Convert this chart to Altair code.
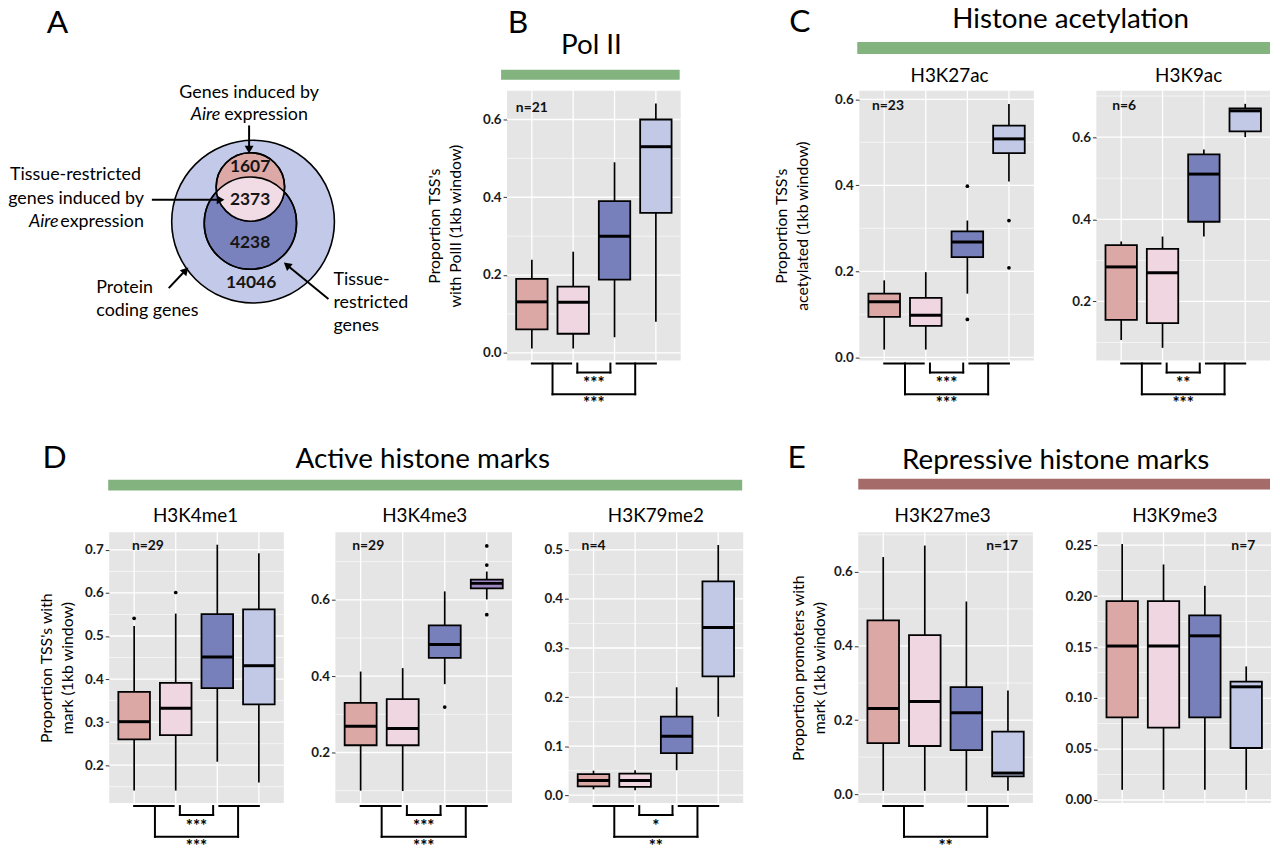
import math
import altair as alt
import numpy as np
import pandas as pd

FONT = "Lato"
PANEL_BG = "#e5e5e5"
GREEN = "#83b37f"
RED = "#a56b68"
BOX_FILL = ["#dba8a6", "#efd6e1", "#7880bb", "#c2c9e7"]
D2_FILL = ["#dba8a6", "#efd6e1", "#7880bb", "#9d88c4"]
CATS = [1, 2, 3, 4]

# ---------------- Panel A: Venn diagram ----------------
venn_counts = ["1607", "2373", "4238", "14046"]
venn_count_x = [249, 249, 249, 250]
venn_count_y = [165, 198, 242, 282]
circle_cx = [252, 249.3, 249.3]          # protein coding, tissue-restricted, Aire-induced
circle_cy = [220, 221.5, 185]
circle_r = [82, 46.5, 34.5]
circle_fill = ["#c3c9e8", "#7a82bd", "#dca9a7"]
LENS_FILL = "#f1dce5"

arrow_x = [248, 150, 167, 328]
arrow_y = [123, 198, 287, 298]
arrow_x2 = [248, 217, 183, 287]
arrow_y2 = [145, 198, 270, 264.5]
head_x = [248, 218, 183.2, 287.1]
head_y = [146, 198, 270, 264.5]
head_angle = [180, 90, 43, 309]

# ---------------- Box plot data ----------------
polii_lo = [0.011, 0.011, 0.04, 0.08]
polii_q1 = [0.06, 0.049, 0.188, 0.36]
polii_med = [0.131, 0.13, 0.30, 0.53]
polii_q3 = [0.19, 0.17, 0.39, 0.60]
polii_hi = [0.239, 0.26, 0.49, 0.641]

k27ac_lo = [0.018, 0.018, 0.148, 0.409]
k27ac_q1 = [0.094, 0.073, 0.233, 0.475]
k27ac_med = [0.129, 0.098, 0.268, 0.508]
k27ac_q3 = [0.148, 0.138, 0.293, 0.539]
k27ac_hi = [0.179, 0.198, 0.318, 0.589]
k27ac_out_cat = [3, 3, 4, 4]
k27ac_out_val = [0.398, 0.088, 0.318, 0.208]

k9ac_lo = [0.106, 0.087, 0.358, 0.600]
k9ac_q1 = [0.155, 0.147, 0.394, 0.614]
k9ac_med = [0.284, 0.270, 0.510, 0.664]
k9ac_q3 = [0.337, 0.328, 0.558, 0.670]
k9ac_hi = [0.346, 0.358, 0.570, 0.681]

k4me1_lo = [0.141, 0.141, 0.208, 0.160]
k4me1_q1 = [0.260, 0.270, 0.379, 0.341]
k4me1_med = [0.301, 0.332, 0.451, 0.431]
k4me1_q3 = [0.370, 0.391, 0.551, 0.562]
k4me1_hi = [0.523, 0.552, 0.712, 0.692]
k4me1_out_cat = [1, 2]
k4me1_out_val = [0.541, 0.601]

k4me3_lo = [0.100, 0.099, 0.379, 0.601]
k4me3_q1 = [0.219, 0.219, 0.448, 0.630]
k4me3_med = [0.269, 0.263, 0.483, 0.643]
k4me3_q3 = [0.330, 0.340, 0.533, 0.653]
k4me3_hi = [0.412, 0.421, 0.622, 0.674]
k4me3_out_cat = [3, 4, 4, 4]
k4me3_out_val = [0.319, 0.741, 0.691, 0.561]

k79me2_lo = [0.012, 0.010, 0.051, 0.160]
k79me2_q1 = [0.018, 0.017, 0.086, 0.242]
k79me2_med = [0.030, 0.030, 0.120, 0.342]
k79me2_q3 = [0.043, 0.044, 0.160, 0.436]
k79me2_hi = [0.050, 0.051, 0.220, 0.510]

k27me3_lo = [0.009, 0.009, 0.009, 0.009]
k27me3_q1 = [0.138, 0.130, 0.119, 0.048]
k27me3_med = [0.231, 0.250, 0.220, 0.057]
k27me3_q3 = [0.469, 0.429, 0.289, 0.169]
k27me3_hi = [0.640, 0.671, 0.520, 0.280]

k9me3_lo = [0.010, 0.010, 0.010, 0.010]
k9me3_q1 = [0.081, 0.071, 0.081, 0.051]
k9me3_med = [0.151, 0.151, 0.161, 0.111]
k9me3_q3 = [0.195, 0.195, 0.181, 0.116]
k9me3_hi = [0.251, 0.231, 0.210, 0.131]


def txt(df, **kw):
    base = dict(font=FONT, color="black", baseline="middle")
    base.update(kw)
    return alt.Chart(df).mark_text(**base)


# ---------------- Venn panel ----------------
def venn_panel():
    xs = alt.Scale(domain=[8, 508], nice=False, zero=False)
    ys = alt.Scale(domain=[88, 360], nice=False, zero=False, reverse=True)
    X = lambda f: alt.X(f, scale=xs, axis=None)
    Y = lambda f: alt.Y(f, scale=ys, axis=None)
    layers = []
    circ = pd.DataFrame({"x": circle_cx, "y": circle_cy,
                         "s": [(2 * r) ** 2 for r in circle_r], "f": circle_fill})
    layers.append(alt.Chart(circ).mark_circle(opacity=1, stroke="black", strokeWidth=1.6).encode(
        x=X("x:Q"), y=Y("y:Q"), size=alt.Size("s:Q", scale=None),
        fill=alt.Fill("f:N", scale=None)))
    cx = circle_cx[2]
    rb, rp = circle_r[1], circle_r[2]
    cyb, cyp = circle_cy[1], circle_cy[2]
    d = cyb - cyp
    a = (d * d + rp * rp - rb * rb) / (2 * d)
    h = math.sqrt(rp * rp - a * a)
    lx = np.linspace(cx - h, cx + h, 90)
    top = cyb - np.sqrt(np.clip(rb ** 2 - (lx - cx) ** 2, 0, None))
    bot = cyp + np.sqrt(np.clip(rp ** 2 - (lx - cx) ** 2, 0, None))
    lens = pd.DataFrame({"x": lx, "t": top, "b": bot})
    layers.append(alt.Chart(lens).mark_area(color=LENS_FILL, opacity=1, orient="vertical").encode(
        x=X("x:Q"), y=Y("t:Q"), y2="b:Q"))
    outl = circ.iloc[1:]
    layers.append(alt.Chart(outl).mark_point(shape="circle", filled=False, opacity=1,
                                             color="black", strokeWidth=1.6).encode(
        x=X("x:Q"), y=Y("y:Q"), size=alt.Size("s:Q", scale=None)))
    cnt = pd.DataFrame({"x": venn_count_x, "y": venn_count_y, "t": venn_counts})
    layers.append(txt(cnt, fontSize=17.5, fontWeight="bold", align="center", color="#151515").encode(
        x=X("x:Q"), y=Y("y:Q"), text="t:N"))
    arr = pd.DataFrame({"x": arrow_x, "y": arrow_y, "x2": arrow_x2, "y2": arrow_y2})
    layers.append(alt.Chart(arr).mark_rule(color="black", strokeWidth=2).encode(
        x=X("x:Q"), y=Y("y:Q"), x2="x2:Q", y2="y2:Q"))
    heads = pd.DataFrame({"x": head_x, "y": head_y, "a": head_angle})
    layers.append(alt.Chart(heads).mark_point(shape="triangle", filled=True, opacity=1,
                                              color="black", size=80).encode(
        x=X("x:Q"), y=Y("y:Q"), angle=alt.Angle("a:Q", scale=None)))
    c_df = pd.DataFrame({"x": [248], "y": [90], "t": ["Genes induced by"]})
    layers.append(txt(c_df, fontSize=18, align="center").encode(x=X("x:Q"), y=Y("y:Q"), text="t:N"))
    it_df = pd.DataFrame({"x": [219, 56], "y": [113, 220], "t": ["Aire", "Aire"]})
    layers.append(txt(it_df, fontSize=18, align="right", fontStyle="italic").encode(
        x=X("x:Q"), y=Y("y:Q"), text="t:N"))
    l_df = pd.DataFrame({"x": [223, 94, 94, 333, 333, 333],
                         "y": [113, 287, 310, 279, 302, 325],
                         "t": ["expression", "Protein", "coding genes", "Tissue-", "restricted", "genes"]})
    layers.append(txt(l_df, fontSize=18, align="left").encode(x=X("x:Q"), y=Y("y:Q"), text="t:N"))
    r_df = pd.DataFrame({"x": [139, 142, 142], "y": [173, 197, 220],
                         "t": ["Tissue-restricted", "genes induced by", "expression"]})
    layers.append(txt(r_df, fontSize=18, align="right").encode(x=X("x:Q"), y=Y("y:Q"), text="t:N"))
    a_df = pd.DataFrame({"x": [55], "y": [20], "t": ["A"]})
    layers.append(txt(a_df, fontSize=32, align="center").encode(x=X("x:Q"), y=Y("y:Q"), text="t:N"))
    return alt.layer(*layers).properties(width=500, height=272)


# ---------------- Box panels ----------------
def box_panel(p):
    W, H = p["w"], p["h"]
    xs = alt.Scale(domain=[0.4, 4.6], nice=False, zero=False)
    ys = alt.Scale(domain=p["dom"], nice=False, zero=False)
    yaxis = alt.Axis(values=p["major"], format=p["fmt"], grid=False, domain=False,
                     ticks=True, tickSize=4, tickWidth=1, tickColor="#333333",
                     labelFont=FONT, labelFontSize=13.5, labelFontWeight="bold",
                     labelColor="#1a1a1a", labelPadding=2,
                     title=p["ytitle"], titleFont=FONT, titleFontSize=16,
                     titleFontWeight="normal", titleColor="black",
                     titlePadding=p["tpad"], titleLineHeight=21)
    X = lambda f: alt.X(f, scale=xs, axis=None)
    Y = lambda f: alt.Y(f, scale=ys, axis=yaxis)
    box = pd.DataFrame({"cat": CATS, "lo": p["lo"], "q1": p["q1"], "med": p["med"],
                        "q3": p["q3"], "hi": p["hi"], "fill": p["fill"]})
    base = alt.Chart(box).transform_calculate(xl="datum.cat - 0.38", xr="datum.cat + 0.38")
    layers = [
        alt.Chart(pd.DataFrame({"v": p["minor"]})).mark_rule(color="white", strokeWidth=0.6).encode(y=Y("v:Q")),
        alt.Chart(pd.DataFrame({"v": p["major"]})).mark_rule(color="white", strokeWidth=1.3).encode(y=Y("v:Q")),
        alt.Chart(pd.DataFrame({"cat": CATS})).mark_rule(color="white", strokeWidth=1.3).encode(x=X("cat:Q")),
        base.mark_rule(color="black", strokeWidth=1.7).encode(x=X("cat:Q"), y=Y("lo:Q"), y2="hi:Q"),
        base.mark_rect(stroke="black", strokeWidth=1.8).encode(
            x=X("xl:Q"), x2="xr:Q", y=Y("q1:Q"), y2="q3:Q", fill=alt.Fill("fill:N", scale=None)),
        base.mark_rule(color="black", strokeWidth=3).encode(x=X("xl:Q"), x2="xr:Q", y=Y("med:Q")),
    ]
    if p.get("out_cat"):
        out = pd.DataFrame({"cat": p["out_cat"], "v": p["out_val"]})
        layers.append(alt.Chart(out).mark_circle(color="black", opacity=1, size=14).encode(
            x=X("cat:Q"), y=Y("v:Q")))
    n_df = pd.DataFrame({"x": [p["nx"]], "t": [p["n"]]})
    layers.append(txt(n_df, fontSize=14, fontWeight="bold", align="center", color="#111111").encode(
        x=X("x:Q"), y=alt.value(p["ny"]), text="t:N"))

    def hrule(pairs, yy):
        df = pd.DataFrame({"a": [q[0] for q in pairs], "b": [q[1] for q in pairs]})
        return alt.Chart(df).mark_rule(color="black", strokeWidth=2, strokeCap="square").encode(
            x=X("a:Q"), x2="b:Q", y=alt.value(yy))

    def vrule(xv, y1, y2):
        df = pd.DataFrame({"a": xv})
        return alt.Chart(df).mark_rule(color="black", strokeWidth=2, strokeCap="square").encode(
            x=X("a:Q"), y=alt.value(y1), y2=alt.value(y2))

    y0 = H + 3
    if p.get("small") or p.get("big"):
        layers.append(hrule([(1, 1.95), (3.05, 4)], y0))
    if p.get("small"):
        layers.append(vrule([2.1, 2.9], y0, y0 + 9))
        layers.append(hrule([(2.1, 2.9)], y0 + 9))
        s_df = pd.DataFrame({"x": [2.5], "t": [p["small"]]})
        layers.append(txt(s_df, fontSize=17, fontWeight="bold", align="center").encode(
            x=X("x:Q"), y=alt.value(y0 + 21), text="t:N"))
    if p.get("big"):
        layers.append(vrule([1.5, 3.5], y0, y0 + 31))
        layers.append(hrule([(1.5, 3.5)], y0 + 31))
        b_df = pd.DataFrame({"x": [2.5], "t": [p["big"]]})
        layers.append(txt(b_df, fontSize=17, fontWeight="bold", align="center").encode(
            x=X("x:Q"), y=alt.value(y0 + 41), text="t:N"))

    if p.get("title"):
        t_df = pd.DataFrame({"t": [p["title"]]})
        layers.append(txt(t_df, fontSize=19, align="center").encode(
            x=alt.value(p["tx"]), y=alt.value(p["ty"]), text="t:N"))

    hd = p.get("header")
    if hd:
        one = pd.DataFrame({"t": [hd["text"]]})
        bx1, bx2, by1, by2, bcol = hd["bar"]
        layers.append(alt.Chart(one).mark_rect(color=bcol, opacity=1).encode(
            x=alt.value(bx1), x2=alt.value(bx2), y=alt.value(by1), y2=alt.value(by2)))
        layers.append(txt(one, fontSize=28, align="center").encode(
            x=alt.value(hd["tx"]), y=alt.value(hd["ty"]), text="t:N"))
        let = pd.DataFrame({"t": [hd["letter"]]})
        layers.append(txt(let, fontSize=32, align="center").encode(
            x=alt.value(hd["lx"]), y=alt.value(hd["ly"]), text="t:N"))

    return alt.layer(*layers).properties(width=W, height=H,
                                         view=alt.ViewBackground(fill=PANEL_BG, stroke=None))


P_B = dict(w=175, h=272, dom=[-0.02, 0.674], major=[0, 0.2, 0.4, 0.6], minor=[0.1, 0.3, 0.5],
           fmt=".1f", ytitle=["Proportion TSS's", "with PolII (1kb window)"], tpad=19,
           lo=polii_lo, q1=polii_q1, med=polii_med, q3=polii_q3, hi=polii_hi, fill=BOX_FILL,
           n="n=21", nx=1.0, ny=17, small="***", big="***",
           header=dict(text="Pol II", tx=85, ty=-45, bar=(-6, 174, -21, -11, GREEN),
                       letter="B", lx=11, ly=-68))
P_C1 = dict(w=176, h=272, dom=[-0.0076, 0.62], major=[0, 0.2, 0.4, 0.6], minor=[0.1, 0.3, 0.5],
            fmt=".1f", ytitle=["Proportion TSS's", "acetylated (1kb window)"], tpad=24,
            lo=k27ac_lo, q1=k27ac_q1, med=k27ac_med, q3=k27ac_q3, hi=k27ac_hi, fill=BOX_FILL,
            out_cat=k27ac_out_cat, out_val=k27ac_out_val,
            n="n=23", nx=1.09, ny=15, small="***", big="***", title="H3K27ac", tx=91, ty=-15,
            header=dict(text="Histone acetylation", tx=213, ty=-71, bar=(-2, 414, -49, -37, GREEN),
                        letter="C", lx=-60, ly=-69))
P_C2 = dict(w=175, h=272, dom=[0.056, 0.713], major=[0.2, 0.4, 0.6], minor=[0.1, 0.3, 0.5, 0.7],
            fmt=".1f", ytitle=None, tpad=0,
            lo=k9ac_lo, q1=k9ac_q1, med=k9ac_med, q3=k9ac_q3, hi=k9ac_hi, fill=BOX_FILL,
            n="n=6", nx=1.07, ny=15, small="**", big="***", title="H3K9ac", tx=93, ty=-15)
P_D1 = dict(w=176, h=273, dom=[0.112, 0.741], major=[0.2, 0.3, 0.4, 0.5, 0.6, 0.7],
            minor=[0.15, 0.25, 0.35, 0.45, 0.55, 0.65],
            fmt=".1f", ytitle=["Proportion TSS's with", "mark (1kb window)"], tpad=9,
            lo=k4me1_lo, q1=k4me1_q1, med=k4me1_med, q3=k4me1_q3, hi=k4me1_hi, fill=BOX_FILL,
            out_cat=k4me1_out_cat, out_val=k4me1_out_val,
            n="n=29", nx=1.33, ny=14, small="***", big="***", title="H3K4me1", tx=87, ty=-16,
            header=dict(text="Active histone marks", tx=316, ty=-73, bar=(-1, 638, -53, -42, GREEN),
                        letter="D", lx=-55, ly=-75))
P_D2 = dict(w=178, h=273, dom=[0.0675, 0.777], major=[0.2, 0.4, 0.6], minor=[0.1, 0.3, 0.5, 0.7],
            fmt=".1f", ytitle=None, tpad=0,
            lo=k4me3_lo, q1=k4me3_q1, med=k4me3_med, q3=k4me3_q3, hi=k4me3_hi, fill=D2_FILL,
            out_cat=k4me3_out_cat, out_val=k4me3_out_val,
            n="n=29", nx=1.18, ny=14, small="***", big="***", title="H3K4me3", tx=90, ty=-16)
P_D3 = dict(w=176, h=273, dom=[-0.016, 0.536], major=[0, 0.1, 0.2, 0.3, 0.4, 0.5],
            minor=[0.05, 0.15, 0.25, 0.35, 0.45],
            fmt=".1f", ytitle=None, tpad=0,
            lo=k79me2_lo, q1=k79me2_q1, med=k79me2_med, q3=k79me2_q3, hi=k79me2_hi, fill=BOX_FILL,
            n="n=4", nx=1.0, ny=14, small="*", big="**", title="H3K79me2", tx=88, ty=-16)
P_E1 = dict(w=176, h=273, dom=[-0.024, 0.707], major=[0, 0.2, 0.4, 0.6], minor=[0.1, 0.3, 0.5, 0.7],
            fmt=".1f", ytitle=["Proportion promoters with", "mark (1kb window)"], tpad=6,
            lo=k27me3_lo, q1=k27me3_q1, med=k27me3_med, q3=k27me3_q3, hi=k27me3_hi, fill=BOX_FILL,
            n="n=17", nx=3.86, ny=14, small=None, big="**", title="H3K27me3", tx=85, ty=-16,
            header=dict(text="Repressive histone marks", tx=199, ty=-72, bar=(0, 415, -54, -43, RED),
                        letter="E", lx=-62, ly=-75))
P_E2 = dict(w=175, h=273, dom=[-0.003, 0.2626], major=[0, 0.05, 0.1, 0.15, 0.2, 0.25],
            minor=[0.025, 0.075, 0.125, 0.175, 0.225],
            fmt=".2f", ytitle=None, tpad=0,
            lo=k9me3_lo, q1=k9me3_q1, med=k9me3_med, q3=k9me3_q3, hi=k9me3_hi, fill=BOX_FILL,
            n="n=7", nx=3.93, ny=14, small=None, big=None, title="H3K9me3", tx=78, ty=-16)


def spacer(w, h):
    return alt.Chart(pd.DataFrame({"s": [0]})).mark_point(opacity=0, size=1).encode(
        x=alt.value(1), y=alt.value(1)).properties(width=w, height=h)


top_row = alt.hconcat(venn_panel(), box_panel(P_B), spacer(180, 272), box_panel(P_C1),
                      spacer(63, 272), box_panel(P_C2), spacing=0, bounds="flush")
bottom_row = alt.hconcat(spacer(99, 273), box_panel(P_D1), spacer(52, 273), box_panel(P_D2),
                         spacer(57, 273), box_panel(P_D3), spacer(116, 273), box_panel(P_E1),
                         spacer(65, 273), box_panel(P_E2), spacing=0, bounds="flush")

chart = alt.vconcat(top_row, bottom_row, spacing=30).properties(
    padding={"top": -5, "left": 0, "right": 0, "bottom": 0}).configure_view(stroke=None)

chart.save("out.html", embed_options={"renderer": "svg", "actions": False})
